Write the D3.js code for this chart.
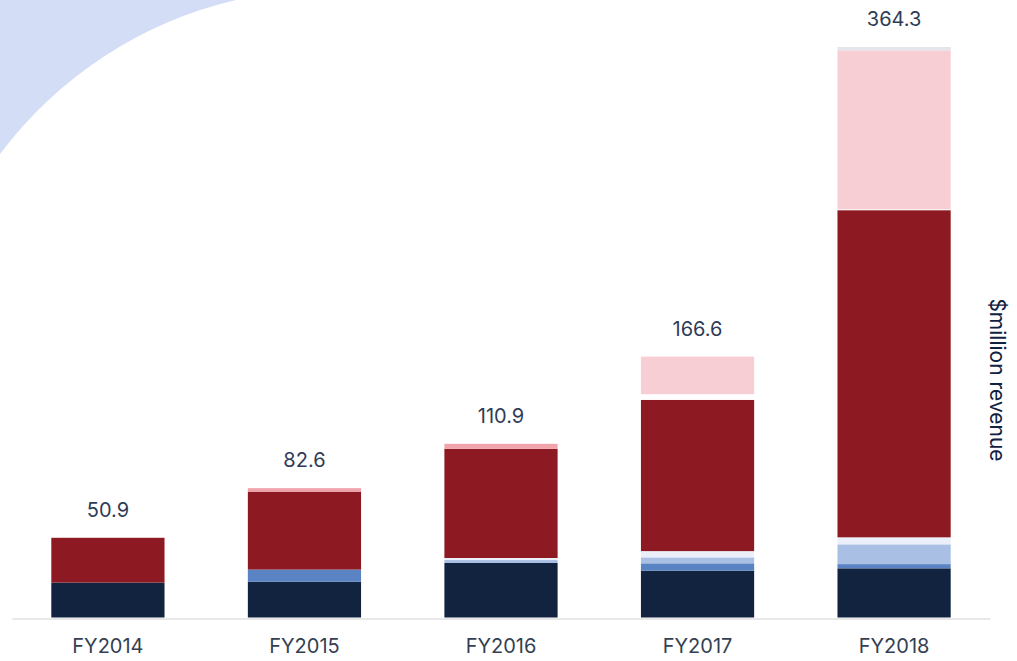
<!DOCTYPE html>
<html>
<head>
<meta charset="utf-8">
<script src="https://cdn.jsdelivr.net/npm/d3@7"></script>
<style>
  body { margin: 0; background: #fff; }
  text { font-family: Inter, "Open Sans", sans-serif; }
</style>
</head>
<body>
<div id="chart"></div>
<script>
// Fiscal years and revenue segments ($million), stacked bottom to top
const years = ["FY2014", "FY2015", "FY2016", "FY2017", "FY2018"];
const totals = [50.9, 82.6, 110.9, 166.6, 364.3];

const navy      = [22.3, 22.8, 34.8, 29.9, 31.4];
const blue      = [0, 7.8, 0, 4.7, 2.7];
const lightBlue = [0, 0, 1.9, 3.8, 12.6];
const paleBlue  = [0, 0, 1.3, 4.0, 4.5];
const red       = [28.6, 49.8, 69.7, 96.6, 208.9];
const gap       = [0, 0, 0, 3.6, 0.6];
const salmon    = [0, 2.2, 3.2, 0, 0];
const lightPink = [0, 0, 0, 24.0, 101.5];
const grey      = [0, 0, 0, 0, 2.1];

const keys = ["navy", "blue", "lightBlue", "paleBlue", "red", "gap", "salmon", "lightPink", "grey"];
const series = {navy, blue, lightBlue, paleBlue, red, gap, salmon, lightPink, grey};
const colors = {
  navy: "#11233f", blue: "#5a83c3", lightBlue: "#a9c0e4", paleBlue: "#eaeff9",
  red: "#8d1a22", gap: "#ffffff", salmon: "#f1a3ab", lightPink: "#f7ced4", grey: "#e3e6ea"
};

const W = 1017, H = 661;

const svg = d3.select("#chart")
  .append("svg")
  .attr("width", W)
  .attr("height", H);

// decorative arc in the top-left corner
svg.append("path")
  .attr("d", "M0,0 L236,0 A412,412 0 0 0 0,154 Z")
  .attr("fill", "#d4ddf6");

// table for d3.stack
const data = years.map((y, i) => {
  const row = {year: y, total: totals[i]};
  keys.forEach(k => row[k] = series[k][i]);
  return row;
});
const stacked = d3.stack().keys(keys)(data);

const x = d3.scaleBand()
  .domain(years)
  .range([12, 990])
  .paddingInner(0.424)
  .paddingOuter(0.2);

const y = d3.scaleLinear()
  .domain([0, d3.max(totals)])
  .range([617.5, 47]);

// bars
svg.selectAll(".layer")
  .data(stacked)
  .enter().append("g")
  .attr("class", "layer")
  .attr("fill", d => colors[d.key])
  .selectAll("rect")
  .data(d => d)
  .enter().append("rect")
  .attr("x", d => x(d.data.year))
  .attr("y", d => y(d[1]))
  .attr("width", x.bandwidth())
  .attr("height", d => y(d[0]) - y(d[1]));

// x axis
const xAxis = svg.append("g")
  .attr("transform", "translate(0,618.5)")
  .call(d3.axisBottom(x).tickSize(0).tickPadding(20));
xAxis.select(".domain").attr("stroke", "#e8e8e8").attr("stroke-width", 2);
xAxis.selectAll("text")
  .style("font-family", "Inter, sans-serif")
  .style("font-size", "20px")
  .attr("fill", "#343f52");

// total labels
svg.selectAll(".total")
  .data(data)
  .enter().append("text")
  .attr("class", "total")
  .attr("x", d => x(d.year) + x.bandwidth() / 2)
  .attr("y", d => y(d.total) - 21)
  .attr("text-anchor", "middle")
  .style("font-size", "20px")
  .attr("fill", "#2f3c55")
  .text(d => d.total);

// axis title on the right
svg.append("text")
  .attr("transform", "translate(990,380) rotate(90)")
  .attr("text-anchor", "middle")
  .style("font-size", "21px")
  .attr("fill", "#11223f")
  .text("$million revenue");
</script>
</body>
</html>
